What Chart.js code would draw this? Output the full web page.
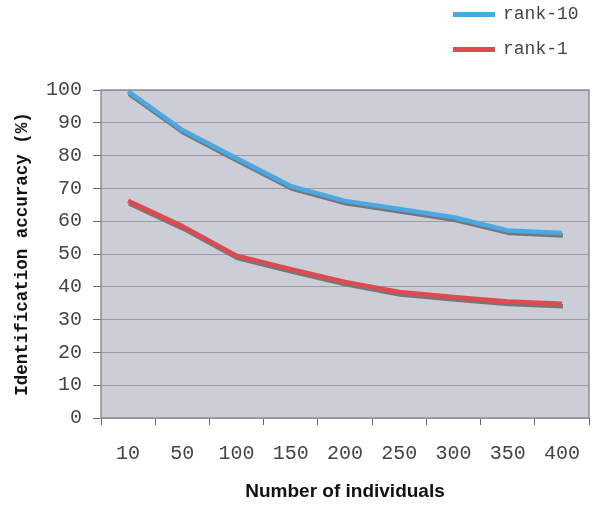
<!DOCTYPE html>
<html>
<head>
<meta charset="utf-8">
<script src="https://cdn.jsdelivr.net/npm/chart.js@4/dist/chart.umd.min.js"></script>
<style>
  html, body { margin: 0; padding: 0; background: #fff; }
  #wrap { position: relative; width: 607px; height: 510px; }
  #legend { position: absolute; left: 453px; top: -4px; font-family: "Liberation Mono", monospace; font-size: 18px; color: #444; }
  .item { display: flex; align-items: center; height: 35px; }
  .swatch { width: 42px; height: 5px; margin-right: 8px; margin-top: 2px; }
</style>
</head>
<body>
<div id="wrap">
  <canvas id="chart" width="607" height="510"></canvas>
  <div id="legend"></div>
</div>
<script>
const categories = ["10", "50", "100", "150", "200", "250", "300", "350", "400"];
const rank10 = [99.6, 87.8, 79.2, 70.7, 66.2, 63.7, 61.2, 57.2, 56.4];
const rank1 = [66.2, 58.5, 49.5, 45.4, 41.5, 38.4, 36.9, 35.5, 34.8];
const yTicks = [0, 10, 20, 30, 40, 50, 60, 70, 80, 90, 100];

const seriesNames = ["rank-10", "rank-1"];
const seriesColors = ["#4aa9e2", "#e04a4e"];

// plot background + frame
const plotFrame = {
  id: "plotFrame",
  beforeDraw(chart) {
    const { ctx, chartArea: a } = chart;
    ctx.save();
    ctx.fillStyle = "#cbced7";
    ctx.fillRect(a.left, a.top, a.right - a.left, a.bottom - a.top);
    ctx.restore();
  },
  afterDraw(chart) {
    const { ctx, chartArea: a } = chart;
    ctx.save();
    ctx.strokeStyle = "#8e9096";
    ctx.lineWidth = 1.5;
    ctx.strokeRect(a.left, a.top, a.right - a.left, a.bottom - a.top);
    ctx.restore();
  }
};

// gray shadow under each line
const lineShadow = {
  id: "lineShadow",
  beforeDatasetDraw(chart) {
    const ctx = chart.ctx;
    ctx.save();
    ctx.shadowColor = "rgba(118,118,122,1)";
    ctx.shadowOffsetX = 1;
    ctx.shadowOffsetY = 2.5;
    ctx.shadowBlur = 0;
  },
  afterDatasetDraw(chart) {
    chart.ctx.restore();
  }
};

const ctx = document.getElementById("chart").getContext("2d");
const chart = new Chart(ctx, {
  type: "line",
  data: {
    labels: categories,
    datasets: [
      { label: seriesNames[0], data: rank10, borderColor: seriesColors[0], backgroundColor: seriesColors[0] },
      { label: seriesNames[1], data: rank1, borderColor: seriesColors[1], backgroundColor: seriesColors[1] }
    ]
  },
  options: {
    responsive: false,
    animation: false,
    layout: { padding: { top: 90, right: 18, left: 0, bottom: 0 } },
    elements: {
      line: { borderWidth: 4.5, tension: 0, borderJoinStyle: "round", borderCapStyle: "butt" },
      point: { radius: 0 }
    },
    plugins: {
      legend: { display: false },
      tooltip: { enabled: false }
    },
    scales: {
      x: {
        offset: true,
        grid: { offset: true, drawOnChartArea: false, drawTicks: true, tickLength: 7, color: "#666" },
        border: { display: false },
        ticks: {
          padding: 17,
          color: "#444",
          font: { family: "Liberation Mono", size: 20 }
        },
        title: {
          display: true,
          text: "Number of individuals",
          color: "#111",
          font: { family: "Liberation Sans", size: 19, weight: "bold" },
          padding: { top: 0, bottom: 7 }
        },
        afterFit(scale) { scale.height = 92; }
      },
      y: {
        min: 0,
        max: 100,
        afterBuildTicks(scale) { scale.ticks = yTicks.map(v => ({ value: v })); },
        grid: { color: "#9a9ca2", lineWidth: 1, tickLength: 8, tickColor: "#666" },
        border: { display: false },
        ticks: {
          padding: 11,
          color: "#444",
          font: { family: "Liberation Mono", size: 20 }
        },
        title: {
          display: true,
          text: "Identification accuracy (%)",
          color: "#111",
          font: { family: "Liberation Mono", size: 17.5, weight: "bold" },
          padding: { top: 12, bottom: 0 }
        },
        afterFit(scale) { scale.width = 101; }
      }
    }
  },
  plugins: [plotFrame, lineShadow]
});

// legend, stacked at the top right
const legend = document.getElementById("legend");
chart.data.datasets.forEach(ds => {
  const item = document.createElement("div");
  item.className = "item";
  item.innerHTML = `<span class="swatch" style="background:${ds.borderColor}"></span><span>${ds.label}</span>`;
  legend.appendChild(item);
});
</script>
</body>
</html>
